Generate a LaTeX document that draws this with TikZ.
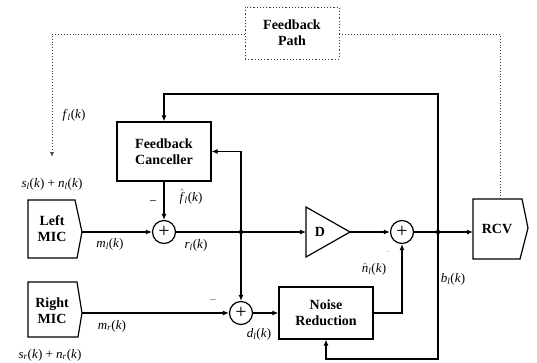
\documentclass[tikz,border=0pt]{standalone}
\usepackage{fontspec}
\setmainfont{Liberation Serif}
\usetikzlibrary{arrows.meta}
\newcommand{\sig}[2]{\textit{#1}\textsubscript{\textit{#2}}(\textit{k})}
\newcommand{\hsig}[2]{$\hat{\mbox{\textit{#1}}}$\textsubscript{\textit{#2}}(\textit{k})}
\begin{document}
\begin{tikzpicture}[x=1pt,y=-1pt,
  ln/.style={line width=1.2pt},
  arr/.style={ln,-{Latex[length=6pt,width=5pt]}},
  blk/.style={draw,line width=1.2pt,align=center,inner sep=0pt,font=\bfseries\fontsize{14}{16}\selectfont},
  txt/.style={align=center,inner sep=0pt,font=\bfseries\fontsize{14}{16}\selectfont},
  sumn/.style={draw,circle,line width=1.2pt,minimum size=23pt,inner sep=0pt,font=\fontsize{20}{20}\selectfont},
  jdot/.style={circle,fill,inner sep=0pt,minimum size=4.5pt},
  lbl/.style={inner sep=0pt,font=\fontsize{13}{15}\selectfont},
  fb/.style={dotted,line width=0.9pt,draw=black!75}
]
\useasboundingbox (0,0) rectangle (537,362);

% blocks
\node[blk,fb,minimum width=94pt,minimum height=52pt] (fp) at (292,33) {Feedback\\Path};
\node[blk,minimum width=94pt,minimum height=59pt] (fc) at (164,151.5) {Feedback\\Canceller};
\node[blk,minimum width=94pt,minimum height=52pt] (nr) at (326,313) {Noise\\Reduction};

% microphones and receiver
\draw[ln] (28,200) -- (75,200) -- (82,232) -- (77,258) -- (28,258) -- cycle;
\node[txt] (lmic) at (52,229) {Left\\MIC};
\coordinate (lmo) at (82,232);
\draw[ln] (28,282) -- (77,282) -- (82,313) -- (78,337) -- (28,337) -- cycle;
\node[txt] (rmic) at (52,311) {Right\\MIC};
\coordinate (rmo) at (82,313);
\draw[ln] (473,199) -- (522,199) -- (528,228) -- (520,259) -- (473,259) -- cycle;
\node[txt] (rcv) at (497,229) {RCV};
\coordinate (rcvin) at (473,232);
\coordinate (rcvtop) at (500,199);

% delay
\draw[ln] (306,207) -- (350,232) -- (306,257) -- cycle;
\node[txt] (dl) at (320,232) {D};
\coordinate (din) at (306,232);
\coordinate (dout) at (350,232);

% summers
\node[sumn] (s1) at (164,232) {+};
\node[sumn] (s2) at (241,313) {+};
\node[sumn] (s3) at (402,232) {+};

% junctions
\node[jdot] (j1) at (241,232) {};
\node[jdot] (j2) at (438,232) {};
\coordinate (tl) at (164,94);
\coordinate (tr) at (438,94);
\coordinate (br) at (438,359);
\coordinate (bl) at (326,359);
\coordinate (nrc) at (402,313);
\coordinate (fcr) at (241,151.5);

% connectors
\draw[arr] (lmo) -- (s1);
\draw[arr] (fc) -- (s1);
\draw[ln] (s1) -- (j1);
\draw[arr] (j1) -- (din);
\draw[arr] (dout) -- (s3);
\draw[ln] (s3) -- (j2);
\draw[arr] (j2) -- (rcvin);
\draw[arr] (j2) -- (tr) -- (tl) -- (fc);
\draw[arr] (j1) -- (fcr) -- (fc.east);
\draw[arr] (j1) -- (s2);
\draw[arr] (rmo) -- (s2);
\draw[arr] (s2) -- (nr);
\draw[arr] (nr.east) -- (nrc) -- (s3);
\draw[arr] (j2) -- (br) -- (bl) -- (nr);

% feedback path
\coordinate (fl1) at (52,34);
\coordinate (fl2) at (52,157);
\coordinate (fr1) at (500,34);
\draw[fb,-{Latex[length=5pt,width=4pt]}] (fp.west |- fl1) -- (fl1) -- (fl2);
\draw[fb] (fp.east |- fr1) -- (fr1) -- (rcvtop);

% labels
\node[lbl] (lf) at (74,115) {\sig{f}{l}};
\node[lbl] (lsl) at (52,184) {\textit{s}\textsubscript{\textit{l}}(\textit{k}) + \textit{n}\textsubscript{\textit{l}}(\textit{k})};
\node[lbl] (lml) at (110,244) {\sig{m}{l}};
\node[lbl] (lm1) at (153,203) {−};
\node[lbl] (lfh) at (191,197) {\hsig{f}{l}};
\node[lbl] (lrl) at (196,245) {\sig{r}{l}};
\node[lbl] (lmr) at (112,326) {\sig{m}{r}};
\node[lbl,text=black!55] (lm2) at (213,302) {−};
\node[lbl] (ldl) at (259,334) {\sig{d}{l}};
\node[lbl] (lnh) at (374,269) {\hsig{n}{l}};
\node[lbl,text=black!45,font=\fontsize{7}{8}\selectfont] (lm3) at (388,253) {−};
\node[lbl] (lbl2) at (453,279) {\sig{b}{l}};
\node[lbl] (lsr) at (50,355) {\textit{s}\textsubscript{\textit{r}}(\textit{k}) + \textit{n}\textsubscript{\textit{r}}(\textit{k})};
\end{tikzpicture}
\end{document}
